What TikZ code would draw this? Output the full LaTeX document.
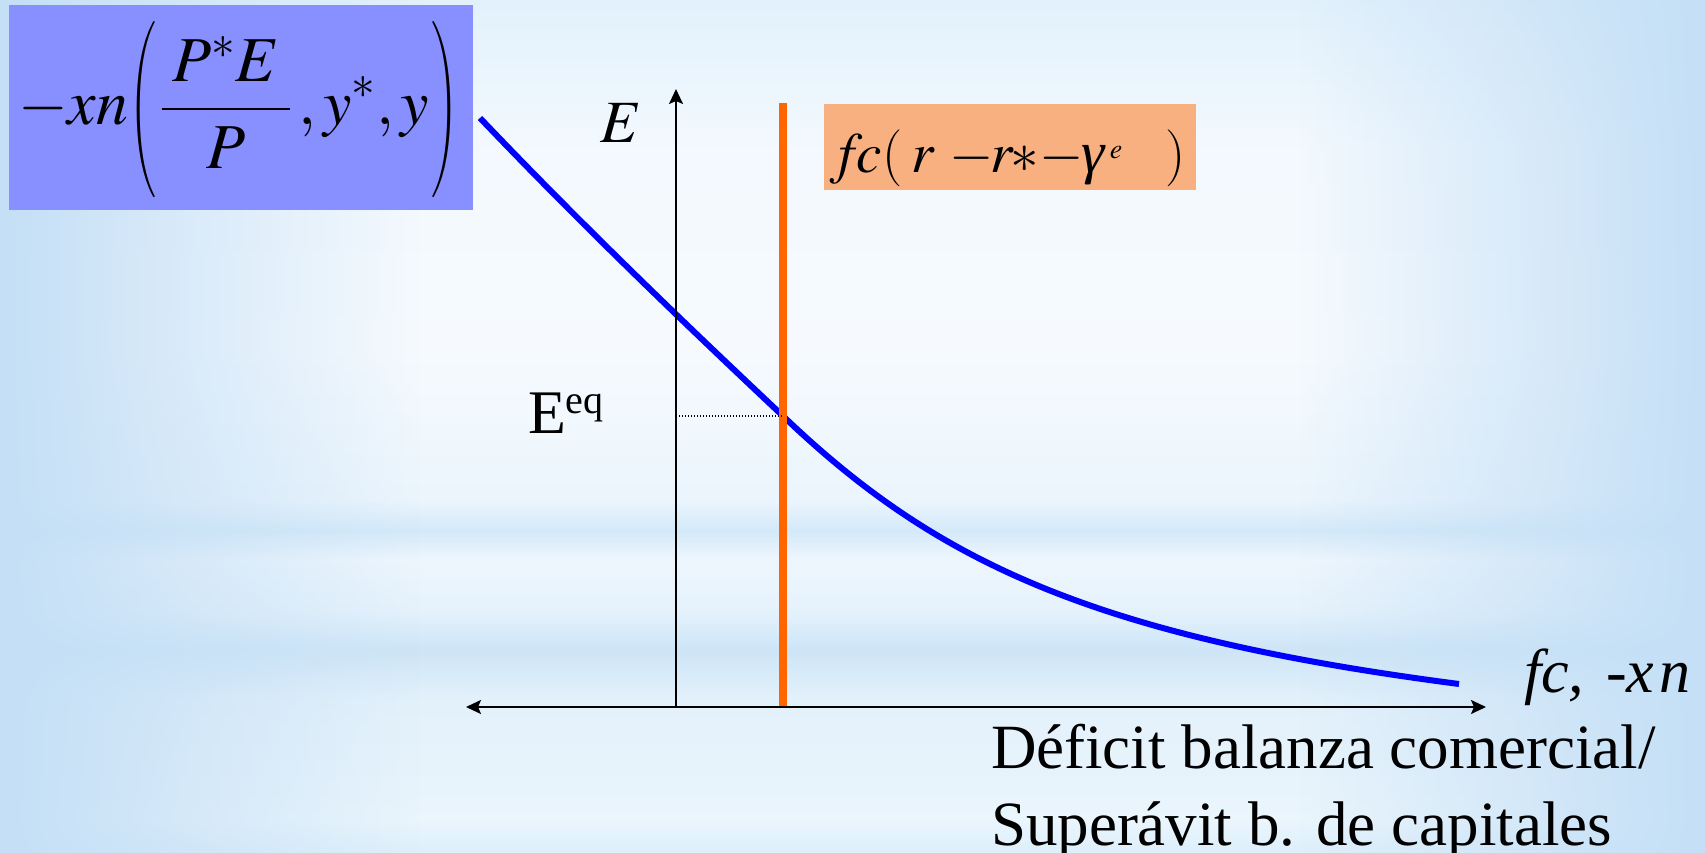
\documentclass[tikz,border=0pt]{standalone}
\usepackage{mathptmx}
\usepackage{fontspec}
\newfontfamily\tnr{Liberation Serif}
\usetikzlibrary{arrows.meta,fadings}
\definecolor{bgA}{HTML}{DDEFFB}
\definecolor{bgB}{HTML}{EAF5FC}
\definecolor{bgC}{HTML}{E3F1FB}
\definecolor{bgD}{HTML}{CDE5F7}
\definecolor{bgE}{HTML}{E5F2FC}
\definecolor{bgF}{HTML}{EEF6FD}
\definecolor{bgG}{HTML}{D4E9F9}
\definecolor{bgH}{HTML}{EBF5FD}
\definecolor{bgI}{HTML}{F6FAFE}
\definecolor{bgJ}{HTML}{F3F9FE}
\definecolor{bgK}{HTML}{E2F1FC}
\definecolor{sideblue}{HTML}{C4DFF6}
\definecolor{boxblue}{RGB}{136,144,255}
\definecolor{boxorange}{RGB}{248,176,128}
\definecolor{lineorange}{RGB}{255,102,0}
\pgfdeclareverticalshading{bgshade}{100bp}{color(0bp)=(bgA); color(25bp)=(bgA); color(26.9bp)=(bgB); color(34bp)=(bgC); color(36.9bp)=(bgD); color(39.2bp)=(bgE); color(42.2bp)=(bgF); color(43.9bp)=(bgG); color(45.7bp)=(bgH); color(54.5bp)=(bgI); color(66.2bp)=(bgJ); color(75bp)=(bgK); color(100bp)=(bgK)}
\newcommand{\bigparen}[1]{{\fontsize{64}{66}\selectfont\nulldelimiterspace=0pt
  \resizebox*{27pt}{176pt}{$\left#1\vrule height 80pt depth 50pt width 0pt\right.$}}}
% place a piece at a horizontal offset from the node origin
\newcommand{\putat}[2]{\rlap{\hspace{#1}#2}}
\tikzset{
  txt/.style={inner sep=0pt, outer sep=0pt},
  axisline/.style={line width=2pt, black},
  curveline/.style={line width=6pt, blue},
  fcline/.style={line width=8pt, lineorange},
  eqdots/.style={line width=1.3pt, black, dash pattern=on 1.3pt off 1.7pt},
  labelbox/.style={inner sep=0pt, outer sep=0pt, anchor=north west}
}
\begin{document}
\begin{tikzpicture}[x=1pt,y=-1pt]
\useasboundingbox (0,0) rectangle (1705,853);
\shade[shading=bgshade] (0,0) rectangle (1705,853);
\fill[sideblue, path fading=east] (0,0) rectangle (420,853);
\fill[sideblue, path fading=west] (1300,0) rectangle (1705,853);

% boxes
\node[labelbox, fill=boxblue, minimum width=464pt, minimum height=205pt] (xnbox) at (9,5) {};
\node[labelbox, fill=boxorange, minimum width=372pt, minimum height=86pt] (fcbox) at (824,104) {};

% blue formula
\node[txt, anchor=base west] (xnname) at (18,125) {\fontsize{64}{66}\selectfont $-xn$};
\node[txt] (lpar) at (142.5,109.5) {\bigparen{(}};
\node[txt, anchor=base west] (xnargs) at (160.8,125) {\fontsize{64}{66}\selectfont $\displaystyle\frac{\mkern3mu P^{*}E\mkern3mu}{P}\,,y^{*},y$};
\node[txt] (rpar) at (444.5,109.5) {\bigparen{)}};

% orange formula
\node[txt, anchor=base west] (fc) at (841.4,173) {\fontsize{57}{60}\selectfont%
  \putat{-12pt}{$f$}\putat{15.1pt}{$c$}\putat{40.9pt}{(}\putat{70pt}{$r$}\putat{108pt}{$-$}%
  \putat{149pt}{$r$}\putat{169pt}{$\ast$}\putat{198pt}{$-$}%
  \putat{240pt}{{\tnr\itshape\fontsize{59}{60}\selectfont γ}}%
  \putat{268pt}{\raisebox{14pt}{\fontsize{28}{28}\selectfont $e$}}\putat{324pt}{)}\hspace{343pt}};

% coordinates
\coordinate (origin) at (676,707);
\coordinate (ytip) at (676,89);
\coordinate (xleft) at (466,707);
\coordinate (xright) at (1486,707);
\coordinate (fcbot) at (783,707);
\coordinate (fctop) at (783,103);
\coordinate (cstart) at (480,118);
\coordinate (eq) at (783,416);
\coordinate (cend) at (1459,684);
\coordinate (eqaxis) at (676,416);

% curve
\draw[curveline] (cstart) .. controls (580,223) and (682,321) .. (eq)
  .. controls (935.7,562) and (1093,636.4) .. (cend);

% lines
\draw[fcline] (fcbot) -- (fctop);
\draw[eqdots] (eqaxis) -- (eq);
\draw[axisline, -{Stealth[length=15pt, width=14pt, inset=3pt]}] (origin) -- (ytip);
\draw[axisline, {Stealth[length=15pt, width=14pt, inset=3pt]}-{Stealth[length=15pt, width=14pt, inset=3pt]}] (xleft) -- (xright);

% labels
\node[txt] (Elab) at (621,123) {\fontsize{60}{60}\selectfont $E$};
\node[txt, anchor=base west] (eeq) at (528,433) {\tnr\fontsize{62}{62}\selectfont E\raisebox{20pt}{\fontsize{40}{40}\selectfont eq}};
\node[txt, anchor=base west] (xlab) at (1524,692) {\tnr\fontsize{62}{62}\selectfont\itshape fc,\hspace{22pt}-x\hspace{5pt}n};
\node[txt, anchor=base west] (def1) at (991,768) {\tnr\fontsize{63}{63}\selectfont Déficit balanza comercial/};
\node[txt, anchor=base west] (def2) at (991,845) {\tnr\fontsize{63}{63}\selectfont Superávit b. de capitales};
\end{tikzpicture}
\end{document}
